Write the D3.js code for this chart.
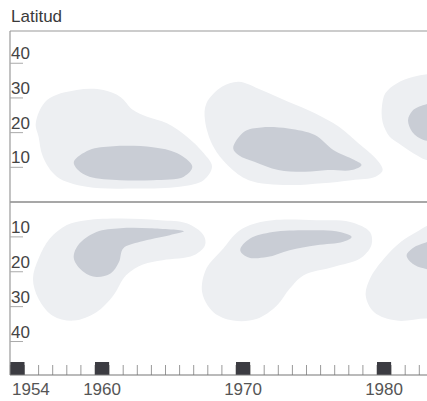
<!DOCTYPE html>
<html>
<head>
<meta charset="utf-8">
<script src="https://cdn.jsdelivr.net/npm/d3@7"></script>
<style>
  body { margin: 0; background: #fff; }
  text { font-family: "Liberation Sans", Arial, sans-serif; }
</style>
</head>
<body>
<div id="chart"></div>
<script>
// outlines of the butterfly wings, [year, latitude]
var northOuter1 = [[1955.8,22.8],[1956.6,29.4],[1958.7,32.3],[1960.6,32.3],[1961.8,30.3],[1962.7,26.5],[1963.7,24.6],[1965.1,22.7],[1966.5,18.9],[1967.7,14.1],[1968.3,10.2],[1967.7,6.3],[1966.0,4.4],[1963.0,3.9],[1959.4,4.4],[1957.3,7.3],[1956.3,13.1],[1956.0,18.8]];
var northInner1 = [[1958.5,11.6],[1959.6,15.0],[1961.3,16.1],[1964.1,15.8],[1965.8,14.1],[1966.9,10.2],[1966.3,7.3],[1964.1,6.3],[1961.8,6.3],[1959.6,7.3],[1958.8,9.2]];
var northOuter2 = [[1967.8,23.6],[1967.9,28.4],[1969.0,33.2],[1970.2,34.7],[1971.8,32.3],[1973.7,28.9],[1975.6,25.6],[1977.3,21.7],[1978.7,16.9],[1979.9,12.6],[1980.4,9.2],[1979.9,7.3],[1978.2,6.3],[1976.1,5.4],[1973.7,4.9],[1970.9,6.3],[1969.5,10.2],[1968.4,15.9]];
var northInner2 = [[1969.8,15.5],[1970.6,20.3],[1971.8,21.5],[1973.7,21.2],[1975.6,19.3],[1976.9,15.0],[1978.4,12.1],[1978.9,10.7],[1978.2,9.2],[1976.5,9.2],[1974.9,8.7],[1973.0,9.2],[1971.3,11.6],[1970.2,13.5]];
var northOuter3 = [[1980.35,27.5],[1980.6,31.4],[1981.4,34.2],[1982.6,36.1],[1984.1,36.6],[1985.2,32],[1985.2,10.7],[1983.5,12.1],[1982.6,14.0],[1981.5,17],[1980.9,18.8],[1980.4,23]];
var northInner3 = [[1982.2,23.6],[1982.5,26.2],[1983.0,27.5],[1984.1,28.2],[1984.5,17.9],[1983.3,17.9],[1982.5,20.2]];

var southOuter1 = [[1958.0,6.6],[1959.4,5.2],[1961.8,4.7],[1964.6,5.2],[1966.5,6.1],[1967.7,9.5],[1967.8,12.4],[1967.0,15.3],[1964.8,16.7],[1963.4,17.9],[1962.2,21.0],[1961.3,26.8],[1960.1,31.6],[1958.5,34.0],[1957.0,32.6],[1956.0,27.8],[1955.6,22.0],[1956.0,16.2],[1956.8,10.5]];
var southInner1 = [[1966.3,8.4],[1965.3,9.5],[1963.2,11.4],[1962.0,13.3],[1961.7,17.2],[1961.1,20.5],[1960.1,21.5],[1959.2,20.1],[1958.5,16.2],[1958.8,12.4],[1960.1,8.6],[1961.8,7.5],[1963.9,7.5]];
var southOuter2 = [[1970.0,9.0],[1971.0,6.6],[1972.6,5.2],[1975.7,5.2],[1978.1,5.7],[1979.5,8.6],[1979.6,12.4],[1978.8,16.2],[1976.9,18.6],[1974.8,21.0],[1973.8,24.9],[1972.9,29.7],[1971.5,33.5],[1969.8,34.0],[1968.4,31.6],[1967.6,25.9],[1967.9,19.1],[1969.1,13.3]];
var southInner2 = [[1970.3,13.8],[1971.0,10.5],[1972.6,8.6],[1975.0,8.1],[1977.1,8.4],[1978.2,10.0],[1977.6,11.4],[1975.7,12.4],[1973.8,13.8],[1972.2,15.8],[1970.9,15.9]];
var southOuter3 = [[1979.2,26.8],[1979.5,22.0],[1980.5,16.2],[1981.7,11.4],[1982.8,8.6],[1983.9,6.3],[1985.2,6.6],[1985.2,34],[1983.5,33.4],[1981.4,34.0],[1979.8,31.6]];
var southInner3 = [[1982.1,15.3],[1982.5,13.3],[1983.1,12.1],[1984.5,11],[1984.5,19.6],[1983.3,19.0],[1982.5,17.6]];

var latTicks = [10, 20, 30, 40];
var yearTicks = d3.range(1954, 1985);
var yearMarks = [1954, 1960, 1970, 1980];

var width = 427, height = 401;
var left = 10, top0 = 31, mid = 202, bottom = 375;

var x = d3.scaleLinear().domain([1954, 1984]).range([10.4, 433.4]);
var yN = d3.scaleLinear().domain([0, 49.3]).range([mid, top0]);
var yS = d3.scaleLinear().domain([0, 49.6]).range([mid, bottom]);

var svg = d3.select('#chart').append('svg')
  .attr('width', width).attr('height', height);

svg.append('text').attr('x', 11).attr('y', 22)
  .style('font-size', '17px').style('fill', '#3a3a3a').text('Latitud');

var defs = svg.append('defs');
defs.append('clipPath').attr('id', 'clipN').append('rect')
  .attr('x', left).attr('y', top0).attr('width', width - left).attr('height', mid - top0);
defs.append('clipPath').attr('id', 'clipS').append('rect')
  .attr('x', left).attr('y', mid).attr('width', width - left).attr('height', bottom - mid);

function drawWing(g, pts, yScale, fill) {
  var line = d3.line()
    .x(function(d) { return x(d[0]); })
    .y(function(d) { return yScale(d[1]); })
    .curve(d3.curveCatmullRomClosed.alpha(0.5));
  g.append('path').attr('d', line(pts)).style('fill', fill);
}

var light = '#edeff2', dark = '#c9cdd5';
var gN = svg.append('g').attr('clip-path', 'url(#clipN)');
[northOuter1, northOuter2, northOuter3].forEach(function(p) { drawWing(gN, p, yN, light); });
[northInner1, northInner2, northInner3].forEach(function(p) { drawWing(gN, p, yN, dark); });
var gS = svg.append('g').attr('clip-path', 'url(#clipS)');
[southOuter1, southOuter2, southOuter3].forEach(function(p) { drawWing(gS, p, yS, light); });
[southInner1, southInner2, southInner3].forEach(function(p) { drawWing(gS, p, yS, dark); });

// frame
svg.append('line').attr('x1', left).attr('x2', width).attr('y1', top0).attr('y2', top0)
  .style('stroke', '#9a9a9a').style('stroke-width', 1.2);
svg.append('line').attr('x1', left).attr('x2', width).attr('y1', mid).attr('y2', mid)
  .style('stroke', '#8a8a8a').style('stroke-width', 1.4);
svg.append('line').attr('x1', left).attr('x2', left).attr('y1', top0).attr('y2', bottom)
  .style('stroke', '#9a9a9a').style('stroke-width', 1.2);

// latitude labels, both hemispheres
[yN, yS].forEach(function(ys) {
  var g = svg.append('g');
  g.selectAll('line').data(latTicks).enter().append('line')
    .attr('x1', left).attr('x2', left + 13)
    .attr('y1', function(d) { return ys(d); }).attr('y2', function(d) { return ys(d); })
    .style('stroke', '#aaa').style('stroke-width', 1);
  g.selectAll('text').data(latTicks).enter().append('text')
    .attr('x', 11).attr('y', function(d) { return ys(d) - 4; })
    .style('font-size', '17px').style('fill', '#444').text(function(d) { return d; });
});

// year axis
var ax = svg.append('g');
ax.selectAll('line.tick').data(yearTicks).enter().append('line')
  .attr('class', 'tick')
  .attr('x1', function(d) { return x(d); }).attr('x2', function(d) { return x(d); })
  .attr('y1', bottom - 10).attr('y2', bottom)
  .style('stroke', '#999').style('stroke-width', 1);
ax.selectAll('rect').data(yearMarks).enter().append('rect')
  .attr('x', function(d) { return x(d); }).attr('y', bottom - 13)
  .attr('width', function(d) { return x(d + 1) - x(d); }).attr('height', 13)
  .style('fill', '#3c3c42');
ax.append('line').attr('x1', left).attr('x2', width).attr('y1', bottom).attr('y2', bottom)
  .style('stroke', '#777').style('stroke-width', 1.2);
ax.selectAll('text').data(yearMarks).enter().append('text')
  .attr('x', function(d, i) { return i === 0 ? 12 : x(d + 0.5); })
  .attr('y', 395)
  .attr('text-anchor', function(d, i) { return i === 0 ? 'start' : 'middle'; })
  .style('font-size', '17px').style('fill', '#555')
  .text(function(d) { return d; });
</script>
</body>
</html>
